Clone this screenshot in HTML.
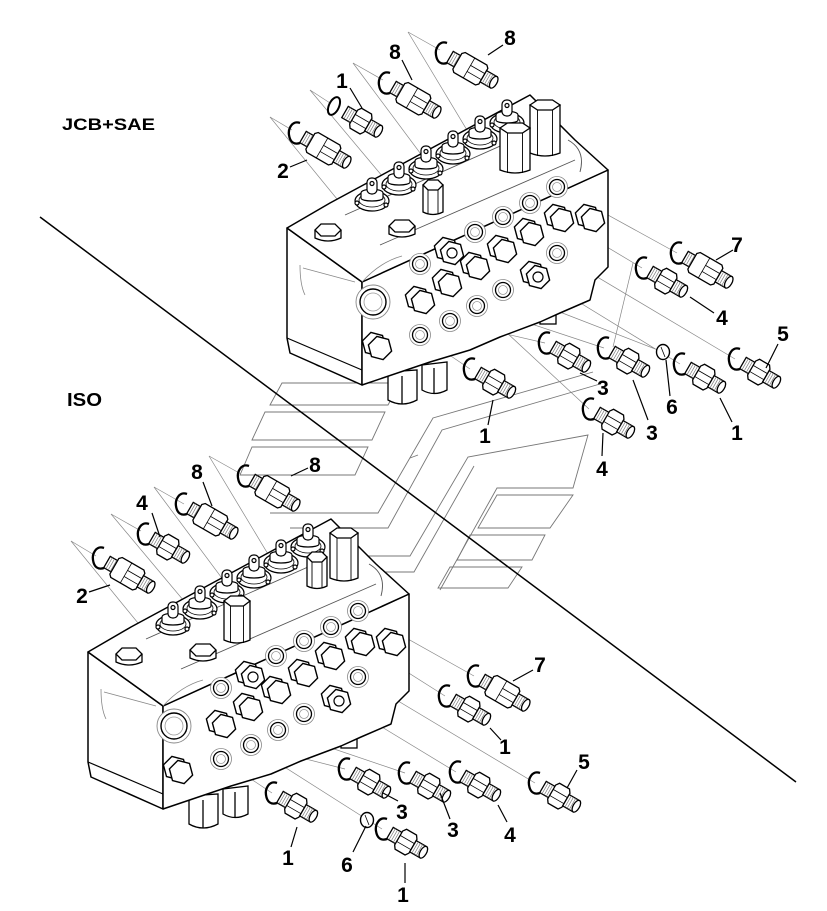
<!DOCTYPE html>
<html><head><meta charset="utf-8">
<style>html,body{margin:0;padding:0;background:#fff}svg{display:block}</style>
</head><body>
<svg width="827" height="911" viewBox="0 0 827 911" xmlns="http://www.w3.org/2000/svg">
<defs>
<g id="fs" stroke="#000" stroke-width="1.3" fill="#fff">
 <rect x="0" y="-6.5" width="10.5" height="13"/>
 <path d="M2.5,-6.5V6.5M5,-6.5V6.5M7.5,-6.5V6.5" stroke="#777" stroke-width="0.7" fill="none"/>
 <path d="M10,-8 L12.5,-11.5 L24,-11.5 L26.5,-8 L26.5,8 L24,11.5 L12.5,11.5 L10,8Z"/>
 <path d="M10,-3 H26.5 M10,4 H26.5" stroke-width="0.8" fill="none"/>
 <rect x="26.5" y="-6.5" width="12" height="13"/>
 <path d="M29,-6.5V6.5M31.5,-6.5V6.5M34,-6.5V6.5M36.5,-6.5V6.5" stroke="#777" stroke-width="0.7" fill="none"/>
 <ellipse cx="38.5" cy="0" rx="3.2" ry="6.5"/>
</g>
<g id="fl" stroke="#000" stroke-width="1.3" fill="#fff">
 <rect x="0" y="-6.5" width="9" height="13"/>
 <path d="M2.5,-6.5V6.5M5,-6.5V6.5M7.5,-6.5V6.5" stroke="#777" stroke-width="0.7" fill="none"/>
 <path d="M8.5,-9 L11,-11.5 L36,-11.5 L38.5,-9 L38.5,9 L36,11.5 L11,11.5 L8.5,9Z"/>
 <path d="M22,-11.5 V11.5 M22,-3 H38.5 M22,4 H38.5" stroke-width="0.8" fill="none"/>
 <rect x="38.5" y="-6.5" width="12" height="13"/>
 <path d="M41,-6.5V6.5M43.5,-6.5V6.5M46,-6.5V6.5M48.5,-6.5V6.5" stroke="#777" stroke-width="0.7" fill="none"/>
 <ellipse cx="50.5" cy="0" rx="3.2" ry="6.5"/>
</g>
<path id="cr" d="M5,-10 C-3,-13 -7,-4 -6,2 C-5,9 -1,12 5,10" fill="none" stroke="#000" stroke-width="2.3"/>
<g id="r6" stroke="#000" fill="#fff" stroke-width="1.4">
 <ellipse cx="0" cy="0" rx="6.5" ry="7.5"/>
 <path d="M-2,-5 L2,5" stroke-width="0.8"/>
</g>
<g id="pt">
 <circle r="10.5" fill="#fff" stroke="#888" stroke-width="0.8"/>
 <circle r="7.5" fill="#fff" stroke="#000" stroke-width="1.3"/>
 <circle r="4.5" fill="none" stroke="#999" stroke-width="0.8"/>
</g>
<g id="hx" stroke="#000" stroke-width="1.4" fill="#fff">
 <polygon points="5.6,-0.9 -2.9,7.6 -14.5,4.5 -17.6,-7.1 -9.1,-15.6 2.5,-12.5"/>
 <polygon points="11.6,3.1 3.1,11.6 -8.5,8.5 -11.6,-3.1 -3.1,-11.6 8.5,-8.5"/>
</g>
<g id="bp">
 <use href="#hx"/>
 <circle r="5" fill="#fff" stroke="#000" stroke-width="1.2"/>
</g>
<g id="th" stroke="#000" stroke-width="1.3" fill="#fff">
 <path d="M-13,0 V8 Q0,14 13,8 V0"/>
 <polygon points="-13,0 -7,-6 7,-6 13,0 7,6 -7,6"/>
</g>
<g id="sp" stroke="#000" stroke-width="1.2" fill="#fff">
 <ellipse cx="0" cy="23" rx="17" ry="10"/>
 <ellipse cx="0" cy="22" rx="13" ry="7" stroke-width="0.8"/>
 <path d="M-11,15 C-11,10 11,10 11,15 L11,20 C11,24 -11,24 -11,20Z"/>
 <rect x="-5" y="0" width="10" height="16" rx="4.5"/>
 <circle cx="0" cy="5.5" r="2" fill="none"/>
 <circle cx="-15" cy="25" r="2"/><circle cx="14" cy="27" r="2"/>
</g>
<g id="blk">
 <g stroke="#000" stroke-width="1.3" fill="#fff">
  <path d="M388,372 L388,400 Q402,408 417,400 L417,370Z"/>
  <path d="M402,376 V404" fill="none"/>
  <path d="M422,365 L422,390 Q434,397 447,390 L447,362Z"/>
  <path d="M434,368 V394" fill="none"/>
  <rect x="508" y="305" width="16" height="20"/>
  <rect x="540" y="300" width="16" height="24"/>
  <path d="M315,352 v12 q7,5 13,0 v-8Z"/>
 </g>
 <g stroke="#000" stroke-width="1.5" fill="#fff" stroke-linejoin="round">
  <path d="M287,228 L362,282 L362,385 L290,353 L287,338 Z"/>
  <path d="M362,282 L608,170 L608,267 L595,280 L590,300 L560,313 L540,322 L500,337 L470,350 L430,362 L362,385 Z"/>
  <path d="M287,228 L330,203 L530,95 L575,140 L608,170 L362,282 Z"/>
 </g>
 <path d="M287,338 L362,370" stroke="#000" stroke-width="1.2" fill="none"/>
 <path d="M300,265 Q300,285 305,295 M303,268 L355,282 M362,282 Q380,262 402,256" stroke="#888" stroke-width="0.8" fill="none"/>
 <path d="M345,215 L525,135 M380,245 L575,160 M568,140 Q586,150 580,172" stroke="#555" stroke-width="0.9" fill="none"/>
 <use href="#th" x="328" y="230"/>
 <use href="#th" x="402" y="226"/>
 <use href="#sp" x="507" y="100"/>
 <use href="#sp" x="480" y="116"/>
 <use href="#sp" x="453" y="131"/>
 <use href="#sp" x="426" y="146"/>
 <use href="#sp" x="399" y="162"/>
 <use href="#sp" x="372" y="178"/>
 <circle cx="373" cy="302" r="17" fill="#fff" stroke="#888" stroke-width="0.9"/>
 <circle cx="373" cy="302" r="13" fill="#fff" stroke="#000" stroke-width="1.4"/>
 <circle cx="373" cy="302" r="9" fill="none" stroke="#999" stroke-width="0.8"/>
 <use href="#pt" x="420" y="264"/>
 <use href="#pt" x="475" y="232"/>
 <use href="#pt" x="503" y="217"/>
 <use href="#pt" x="530" y="203"/>
 <use href="#pt" x="557" y="187"/>
 <use href="#pt" x="420" y="335"/>
 <use href="#pt" x="450" y="321"/>
 <use href="#pt" x="477" y="306"/>
 <use href="#pt" x="503" y="290"/>
 <use href="#pt" x="557" y="253"/>
 <use href="#hx" x="380" y="348"/>
 <use href="#bp" x="452" y="253"/>
 <use href="#hx" x="562" y="220"/>
 <use href="#hx" x="532" y="234"/>
 <use href="#hx" x="505" y="251"/>
 <use href="#hx" x="478" y="268"/>
 <use href="#hx" x="450" y="285"/>
 <use href="#hx" x="423" y="302"/>
 <use href="#bp" x="538" y="277"/>
 <use href="#hx" x="593" y="220"/>
</g>
</defs>

<!-- watermark -->
<g stroke="#777" stroke-width="0.9" fill="none">
 <path d="M270,405 L282,383 L400,383 L388,405 Z"/>
 <path d="M252,440 L265,412 L385,412 L372,440 Z"/>
 <path d="M240,475 L252,447 L368,447 L355,475 Z"/>
 <path d="M270,513 L378,513 L433,418 L593,372"/>
 <path d="M290,528 L388,528 L442,430 L600,384"/>
 <path d="M283,556 L410,556 L468,457 L588,435 L573,488 L497,488 L440,590"/>
 <path d="M283,572 L414,572 L474,466"/>
 <path d="M497,495 L573,495 L550,528 L478,528 Z"/>
 <path d="M470,535 L545,535 L532,560 L457,560 Z"/>
 <path d="M450,567 L522,567 L508,588 L438,588 Z"/>
 <path d="M410,458 L418,455"/>
</g>

<!-- explode lines -->
<g stroke="#888" stroke-width="0.7" fill="none">
 <path d="M408,32 L500,185 M353,63 L470,220 M310,90 L440,245 M270,117 L395,270"/>
 <path d="M408,32 L440,50 M353,63 L383,80 M310,90 L330,103 M270,117 L292,130"/>
 <path d="M677,253 L557,187 M642,268 L562,220 M735,359 L557,253 M680,364 L538,277 M663,352 L503,290 M604,348 L477,306 M545,343 L450,321 M470,369 L420,335 M589,409 L478,306 M633,263 L613,347"/>
 <path d="M209,456 L301,609 M154,487 L271,644 M111,514 L241,669 M71,541 L196,694"/>
 <path d="M209,456 L241,474 M154,487 L184,504 M111,514 L141,531 M71,541 L96,556"/>
 <path d="M474,676 L358,611 M445,696 L363,644 M535,783 L358,677 M456,772 L339,701 M405,773 L278,730 M345,769 L251,745 M272,793 L221,759 M382,829 L253,747"/>
</g>

<!-- blocks -->
<use href="#blk"/>
<use href="#blk" transform="translate(-199,424)"/>

<!-- towers -->
<g stroke="#000" stroke-width="1.3" fill="#fff">
 <path d="M530,105 V153 Q545,159 560,153 V105 Z"/>
 <polygon points="530,105 537.5,100 552.5,100 560,105 552.5,110 537.5,110"/>
 <path d="M537.5,110 V156 M552.5,110 V156" fill="none" stroke-width="0.9"/>
 <path d="M500,128 V170 Q515,176 530,170 V128 Z"/>
 <polygon points="500,128 507.5,123 522.5,123 530,128 522.5,133 507.5,133"/>
 <path d="M507.5,133 V173 M522.5,133 V173" fill="none" stroke-width="0.9"/>
 <path d="M423,185 V212 Q433,217 443,212 V185 Z"/>
 <polygon points="423,185 428,180 438,180 443,185 438,190 428,190"/>
 <path d="M428,190 V214 M438,190 V214" fill="none" stroke-width="0.9"/>

 <path d="M330,533 V578 Q344,584 358,578 V533 Z"/>
 <polygon points="330,533 337,528 351,528 358,533 351,538 337,538"/>
 <path d="M337,538 V581 M351,538 V581" fill="none" stroke-width="0.9"/>
 <path d="M307,557 V586 Q317,591 327,586 V557 Z"/>
 <polygon points="307,557 312,552 322,552 327,557 322,562 312,562"/>
 <path d="M312,562 V588 M322,562 V588" fill="none" stroke-width="0.9"/>
 <path d="M224,601 V640 Q237,646 250,640 V601 Z"/>
 <polygon points="224,601 230.5,596 243.5,596 250,601 243.5,606 230.5,606"/>
 <path d="M230.5,606 V643 M243.5,606 V643" fill="none" stroke-width="0.9"/>
</g>

<!-- diagonal separator -->
<path d="M40,217 L796,782" stroke="#000" stroke-width="1.5"/>

<!-- upper fittings -->
<use href="#fl" transform="translate(450,57) rotate(30)"/><use href="#cr" x="442" y="53"/>
<use href="#fl" transform="translate(393,87) rotate(30)"/><use href="#cr" x="385" y="83"/>
<use href="#fs" transform="translate(345,112) rotate(30)"/>
<ellipse cx="334" cy="106" rx="5" ry="9.5" transform="rotate(25 334 106)" fill="none" stroke="#000" stroke-width="2"/>
<use href="#fl" transform="translate(303,137) rotate(30)"/><use href="#cr" x="295" y="133"/>
<use href="#fl" transform="translate(685,257) rotate(30)"/><use href="#cr" x="677" y="253"/>
<use href="#fs" transform="translate(650,272) rotate(30)"/><use href="#cr" x="642" y="268"/>
<use href="#fs" transform="translate(743,363) rotate(30)"/><use href="#cr" x="735" y="359"/>
<use href="#fs" transform="translate(688,368) rotate(30)"/><use href="#cr" x="680" y="364"/>
<use href="#r6" x="663" y="352"/>
<use href="#fs" transform="translate(612,352) rotate(30)"/><use href="#cr" x="604" y="348"/>
<use href="#fs" transform="translate(553,347) rotate(30)"/><use href="#cr" x="545" y="343"/>
<use href="#fs" transform="translate(478,373) rotate(30)"/><use href="#cr" x="470" y="369"/>
<use href="#fs" transform="translate(597,413) rotate(30)"/><use href="#cr" x="589" y="409"/>

<!-- lower fittings -->
<use href="#fl" transform="translate(252,480) rotate(30)"/><use href="#cr" x="244" y="476"/>
<use href="#fl" transform="translate(190,508) rotate(30)"/><use href="#cr" x="182" y="504"/>
<use href="#fs" transform="translate(152,538) rotate(30)"/><use href="#cr" x="144" y="534"/>
<use href="#fl" transform="translate(107,562) rotate(30)"/><use href="#cr" x="99" y="558"/>
<use href="#fl" transform="translate(482,680) rotate(30)"/><use href="#cr" x="474" y="676"/>
<use href="#fs" transform="translate(453,700) rotate(30)"/><use href="#cr" x="445" y="696"/>
<use href="#fs" transform="translate(543,787) rotate(30)"/><use href="#cr" x="535" y="783"/>
<use href="#fs" transform="translate(463,776) rotate(30)"/><use href="#cr" x="456" y="772"/>
<use href="#fs" transform="translate(413,777) rotate(30)"/><use href="#cr" x="405" y="773"/>
<use href="#fs" transform="translate(353,773) rotate(30)"/><use href="#cr" x="345" y="769"/>
<use href="#fs" transform="translate(280,797) rotate(30)"/><use href="#cr" x="272" y="793"/>
<use href="#r6" x="367" y="820"/>
<use href="#fs" transform="translate(390,833) rotate(30)"/><use href="#cr" x="382" y="829"/>

<!-- leaders -->
<g stroke="#000" stroke-width="1.2" fill="none">
 <path d="M488,55 L503,45 M402,60 L412,80 M350,88 L362,108 M290,167 L307,160"/>
 <path d="M733,250 L716,260 M690,297 L714,313 M778,344 L766,368 M720,398 L732,422 M666,360 L670,396 M633,380 L648,420 M580,373 L597,381 M493,400 L488,425 M603,433 L602,456"/>
 <path d="M291,476 L308,468 M203,482 L212,506 M152,513 L160,537 M89,592 L110,585"/>
 <path d="M533,670 L513,681 M490,728 L501,740 M577,770 L567,788 M498,805 L507,822 M440,793 L450,819 M383,793 L398,801 M297,827 L291,847 M366,826 L353,852 M405,863 L405,883"/>
</g>

<!-- labels -->
<g font-family="Liberation Sans, Arial, sans-serif" font-weight="bold" font-size="21" text-anchor="middle" fill="#000">
 <text x="510" y="45">8</text>
 <text x="395" y="59">8</text>
 <text x="342" y="88">1</text>
 <text x="283" y="178">2</text>
 <text x="737" y="252">7</text>
 <text x="722" y="325">4</text>
 <text x="783" y="341">5</text>
 <text x="737" y="440">1</text>
 <text x="672" y="414">6</text>
 <text x="652" y="440">3</text>
 <text x="603" y="395">3</text>
 <text x="485" y="443">1</text>
 <text x="602" y="476">4</text>

 <text x="315" y="472">8</text>
 <text x="197" y="479">8</text>
 <text x="142" y="510">4</text>
 <text x="82" y="603">2</text>
 <text x="540" y="672">7</text>
 <text x="505" y="754">1</text>
 <text x="584" y="769">5</text>
 <text x="510" y="842">4</text>
 <text x="453" y="837">3</text>
 <text x="402" y="819">3</text>
 <text x="288" y="865">1</text>
 <text x="347" y="872">6</text>
 <text x="403" y="902">1</text>
</g>
<g font-family="Liberation Sans, Arial, sans-serif" font-weight="bold" fill="#000">
 <text x="62" y="130" font-size="17" textLength="93" lengthAdjust="spacingAndGlyphs">JCB+SAE</text>
 <text x="67" y="406" font-size="18.5" textLength="35" lengthAdjust="spacingAndGlyphs">ISO</text>
</g>
</svg>
</body></html>
